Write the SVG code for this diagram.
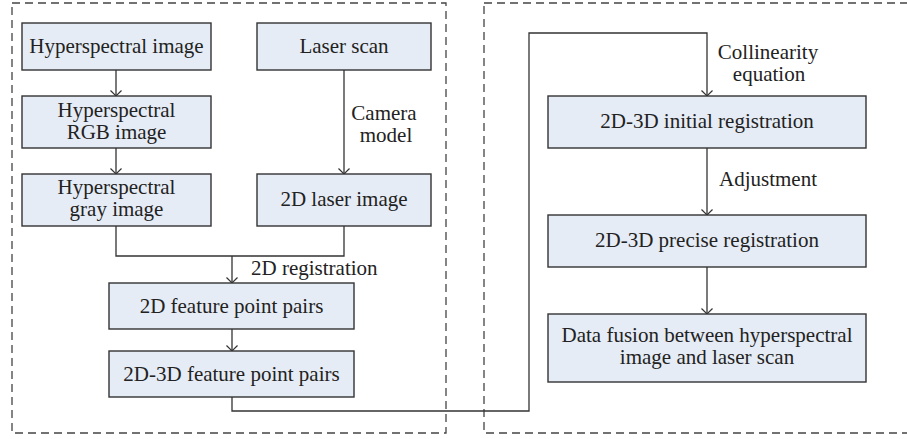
<svg xmlns="http://www.w3.org/2000/svg" width="907" height="439" viewBox="0 0 907 439">
<defs>
<marker id="arr" markerWidth="12" markerHeight="12" refX="6" refY="6" orient="auto" markerUnits="userSpaceOnUse">
<polyline points="0.5,0.5 6,6 0.5,11.5" fill="none" stroke="#333" stroke-width="1.2"/>
</marker>
<style>
.frame{fill:none;stroke:#444;stroke-width:1.3;stroke-dasharray:8 5}
.box{fill:#e6ecf5;stroke:#333;stroke-width:1.4}
.t{font-family:"Liberation Serif","Times New Roman",serif;font-size:21px;fill:#222;text-anchor:middle}
.lab{font-family:"Liberation Serif","Times New Roman",serif;font-size:21px;fill:#222}
.c{fill:none;stroke:#333;stroke-width:1.3}
</style>
</defs>
<rect width="907" height="439" fill="#fff"/>
<g id="frames">
<rect class="frame" x="12" y="3" width="434" height="430"/>
<rect class="frame" x="484" y="3" width="440" height="430"/>
</g>
<g id="connectors">
<line class="c" x1="116" y1="70" x2="116" y2="96" marker-end="url(#arr)"/>
<line class="c" x1="116" y1="148" x2="116" y2="174" marker-end="url(#arr)"/>
<line class="c" x1="344" y1="70" x2="344" y2="174" marker-end="url(#arr)"/>
<polyline class="c" points="116,226 116,256 344,256 344,226"/>
<line class="c" x1="232" y1="256" x2="232" y2="283" marker-end="url(#arr)"/>
<line class="c" x1="232" y1="329" x2="232" y2="351" marker-end="url(#arr)"/>
<polyline class="c" points="232,397 232,411 529,411 529,33 707,33 707,96" marker-end="url(#arr)"/>
<line class="c" x1="707" y1="148" x2="707" y2="215" marker-end="url(#arr)"/>
<line class="c" x1="707" y1="267" x2="707" y2="314" marker-end="url(#arr)"/>
<text class="lab" x="384" y="120" text-anchor="middle">Camera</text>
<text class="lab" x="386" y="142" text-anchor="middle">model</text>
<text class="lab" x="251" y="275">2D registration</text>
<text class="lab" x="768" y="59" text-anchor="middle">Collinearity</text>
<text class="lab" x="769" y="81" text-anchor="middle">equation</text>
<text class="lab" x="768" y="186" text-anchor="middle">Adjustment</text>
</g>
<g id="n1"><rect class="box" x="22" y="23" width="189" height="47"/><text class="t" x="116.5" y="52.5">Hyperspectral image</text></g>
<g id="n2"><rect class="box" x="257" y="23" width="174" height="47"/><text class="t" x="344" y="52.5">Laser scan</text></g>
<g id="n3"><rect class="box" x="22" y="96" width="189" height="52"/><text class="t" x="116.5" y="116.5">Hyperspectral</text><text class="t" x="116.5" y="138.5">RGB image</text></g>
<g id="n4"><rect class="box" x="22" y="174" width="189" height="52"/><text class="t" x="116.5" y="194">Hyperspectral</text><text class="t" x="116.5" y="216">gray image</text></g>
<g id="n5"><rect class="box" x="257" y="174" width="174" height="52"/><text class="t" x="344" y="206">2D laser image</text></g>
<g id="n6"><rect class="box" x="109" y="283" width="245" height="46"/><text class="t" x="231.5" y="312.5">2D feature point pairs</text></g>
<g id="n7"><rect class="box" x="109" y="351" width="245" height="46"/><text class="t" x="231.5" y="380.5">2D-3D feature point pairs</text></g>
<g id="n8"><rect class="box" x="548" y="96" width="318" height="52"/><text class="t" x="707" y="128">2D-3D initial registration</text></g>
<g id="n9"><rect class="box" x="548" y="215" width="318" height="52"/><text class="t" x="707" y="247">2D-3D precise registration</text></g>
<g id="n10"><rect class="box" x="548" y="314" width="318" height="68"/><text class="t" x="707" y="342">Data fusion between hyperspectral</text><text class="t" x="707" y="364">image and laser scan</text></g>
</svg>
